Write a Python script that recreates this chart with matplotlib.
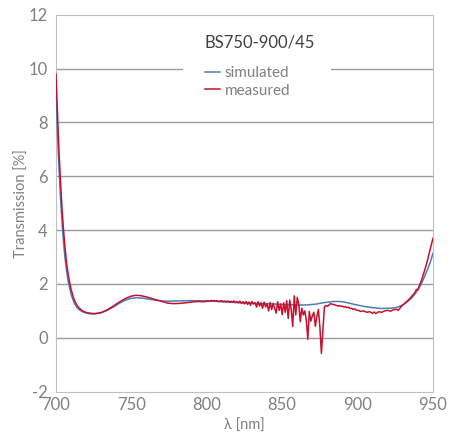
import matplotlib.pyplot as plt
from matplotlib.patches import Rectangle

# simulated curve
sim_wl = [700, 701, 702, 703, 704, 705, 706, 707, 708, 710, 712, 714, 716, 718,
          720, 723, 726, 730, 734, 738, 742, 746, 750, 754, 758, 762, 766, 770,
          775, 780, 790, 800, 810, 820, 830, 840, 850, 860, 866, 872, 878, 884,
          888, 892, 898, 904, 910, 916, 922, 926, 930, 933, 936, 939, 942, 945,
          948, 950]
sim_t = [9.0, 7.6, 6.3, 5.2, 4.3, 3.55, 2.95, 2.5, 2.12, 1.62, 1.30, 1.12, 1.02, 0.96,
         0.92, 0.89, 0.89, 0.93, 1.02, 1.14, 1.28, 1.40, 1.47, 1.49, 1.47, 1.43, 1.40, 1.37,
         1.36, 1.37, 1.38, 1.37, 1.34, 1.31, 1.29, 1.27, 1.24, 1.22, 1.22, 1.25, 1.31, 1.35,
         1.35, 1.32, 1.24, 1.17, 1.12, 1.09, 1.10, 1.13, 1.22, 1.34, 1.48, 1.70, 1.97, 2.35,
         2.77, 3.14]

# measured curve
meas_wl = [700, 701, 702, 703, 704, 705, 706, 707, 708, 710, 712, 714, 716, 718,
           720, 723, 726, 730, 734, 738, 742, 746, 750, 753, 756, 760, 763, 766,
           770, 774, 778, 782, 786, 790, 794, 798,
           800, 801, 802, 803, 804, 805, 806, 807, 808, 809, 810, 811, 812, 813,
           814, 815, 816, 817, 818, 819, 820, 821, 822, 823, 824, 825, 826, 827,
           828, 829, 830, 831, 832, 833, 834, 835, 836, 837, 838, 839, 840, 841,
           842, 843, 844, 845, 846, 847, 848, 849, 850, 851, 852, 853, 854, 855,
           856, 857, 858, 859, 860, 861, 862, 863, 864, 865, 866, 867, 868, 869,
           870, 871, 872, 873, 874, 875, 876, 877, 878, 879, 880, 881, 882, 883,
           884, 885, 886, 887, 888, 889, 890, 891, 892, 893, 894, 895, 896, 897,
           898, 899, 900, 902, 904, 906, 908, 910, 911, 912, 914, 916, 918, 920,
           922, 924, 926, 927, 928, 930, 932, 934, 936, 938, 939, 940, 941, 942,
           944, 946, 948, 950]
meas_t = [9.8, 8.3, 6.9, 5.8, 4.8, 4.0, 3.35, 2.8, 2.38, 1.8, 1.42, 1.2, 1.07, 0.99,
          0.94, 0.91, 0.90, 0.94, 1.04, 1.18, 1.33, 1.46, 1.55, 1.58, 1.57, 1.52, 1.47, 1.42,
          1.35, 1.29, 1.27, 1.28, 1.30, 1.33, 1.35, 1.34,
          1.36, 1.38, 1.35, 1.39, 1.37, 1.39, 1.36, 1.38, 1.35, 1.37, 1.38, 1.34, 1.37, 1.34,
          1.37, 1.32, 1.36, 1.33, 1.37, 1.31, 1.35, 1.30, 1.36, 1.28, 1.34, 1.26, 1.35, 1.24,
          1.33, 1.21, 1.35, 1.25, 1.31, 1.14, 1.34, 1.18, 1.30, 1.10, 1.33, 1.15, 1.26, 1.00,
          1.31, 1.05, 1.28, 1.10, 0.92, 1.34, 1.02, 1.26, 0.86, 1.30, 0.95, 1.38, 0.72, 1.40,
          1.05, 0.42, 1.56, 0.85, 1.50, 1.25, 0.60, 1.10, 0.85, 1.00, 0.65, -0.05, 0.98, 0.62,
          0.82, 0.95, 0.43, 0.80, 1.05, 0.40, -0.58, 0.30, 1.15, 1.20, 1.17, 1.22, 1.27, 1.25,
          1.24, 1.22, 1.20, 1.18, 1.20, 1.17, 1.18, 1.14, 1.16, 1.12, 1.14, 1.09, 1.10, 1.06,
          1.08, 1.03, 1.03, 0.98, 1.00, 0.95, 0.97, 0.91, 0.96, 0.90, 0.97, 0.95, 1.00, 1.02,
          0.99, 1.05, 1.06, 1.02, 1.10, 1.22, 1.32, 1.42, 1.55, 1.68, 1.80, 1.78, 1.95, 2.08,
          2.42, 2.80, 3.26, 3.70]

y_ticks = [-2, 0, 2, 4, 6, 8, 10, 12]
x_ticks = [700, 750, 800, 850, 900, 950]

plt.rcParams['font.family'] = ['Lato', 'DejaVu Sans']
plt.rcParams['axes.unicode_minus'] = False

fig = plt.figure(figsize=(4.5, 4.41), dpi=100)
ax = fig.add_axes([0.1244, 0.1118, 0.8378, 0.8549])

for y in y_ticks[1:-1]:
    ax.axhline(y, color='#9a9a9a', lw=1.0, zorder=1)

# white box behind the title and legend, only cuts the 10 % gridline
ax.add_patch(Rectangle((0.337, 0.77), 0.392, 0.2, transform=ax.transAxes,
                       facecolor='white', edgecolor='none', zorder=2))

ax.plot(sim_wl, sim_t, color='#4a7fb5', lw=1.1, zorder=3, label='simulated')
ax.plot(meas_wl, meas_t, color='#c8102e', lw=1.1, zorder=4, label='measured')

ax.set_xlim(700, 950)
ax.set_ylim(-2, 12)
ax.set_xticks(x_ticks)
ax.set_yticks(y_ticks)
ax.tick_params(length=0, labelsize=12, labelcolor='#808080')
ax.tick_params(axis='x', pad=4)
ax.tick_params(axis='y', pad=6)
for s in ax.spines.values():
    s.set_color('#c0c0c0')

ax.set_xlabel('λ [nm]', fontsize=10.5, color='#808080', labelpad=4)
ax.set_ylabel('Transmission [%]', fontsize=10.5, color='#808080', labelpad=0)

ax.text(0.541, 0.926, 'BS750-900/45', transform=ax.transAxes, ha='center',
        va='center', fontsize=12, color='#404040', zorder=5)
leg = ax.legend(loc='center left', bbox_to_anchor=(0.395, 0.822), frameon=False,
                borderpad=0, borderaxespad=0,
                handlelength=1.0, handletextpad=0.3, labelspacing=0.25,
                fontsize=11, labelcolor='#808080')

fig.savefig('out.png', dpi=100)
